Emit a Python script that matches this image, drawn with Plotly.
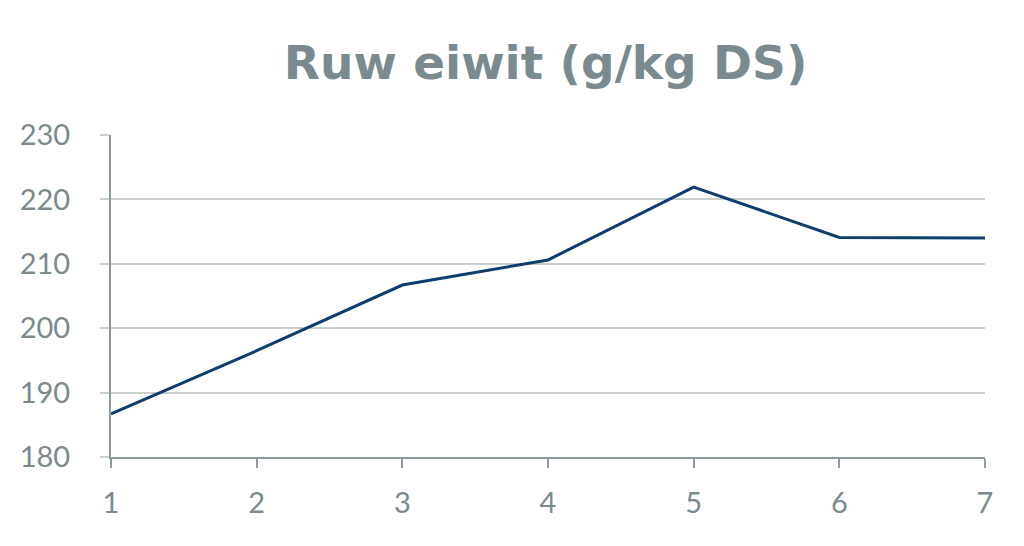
import plotly.graph_objects as go

# data
weeks = [1, 2, 3, 4, 5, 6, 7]
ruw_eiwit = [186.7, 196.5, 206.7, 210.6, 221.9, 214.1, 214.0]

grey = '#7b8a8e'

fig = go.Figure()
fig.add_trace(go.Scatter(
    x=weeks,
    y=ruw_eiwit,
    mode='lines',
    line=dict(color='#0e3d6e', width=3),
    showlegend=False
))

# page body has an 8px margin, so margins are shifted to compensate
fig.update_layout(
    width=1024, height=546,
    margin=dict(l=97, r=47, t=127, b=97),
    paper_bgcolor='white',
    plot_bgcolor='white',
    title=dict(
        text='<b>Ruw eiwit (g/kg DS)</b>',
        x=0.525, xanchor='center',
        y=0.90, yanchor='middle',
        font=dict(family='DejaVu Sans', size=47, color=grey)
    ),
    font=dict(family='Lato', color=grey)
)

fig.update_xaxes(
    range=[1, 7],
    tickvals=weeks,
    showgrid=False,
    showline=True, linecolor='#8c9a9e', linewidth=2,
    ticks='outside', ticklen=9, tickwidth=2, tickcolor='#8c9a9e',
    tickfont=dict(size=29, color=grey),
    ticklabelstandoff=10,
    zeroline=False
)
fig.update_yaxes(
    range=[180, 230],
    dtick=10,
    showgrid=True, gridcolor='#c9cecf', gridwidth=2,
    showline=True, linecolor='#8c9a9e', linewidth=2,
    ticks='outside', ticklen=9, tickwidth=2, tickcolor='#c9cecf',
    tickfont=dict(size=29, color=grey),
    ticklabelstandoff=24,
    zeroline=False
)

fig.write_html("out.html")
